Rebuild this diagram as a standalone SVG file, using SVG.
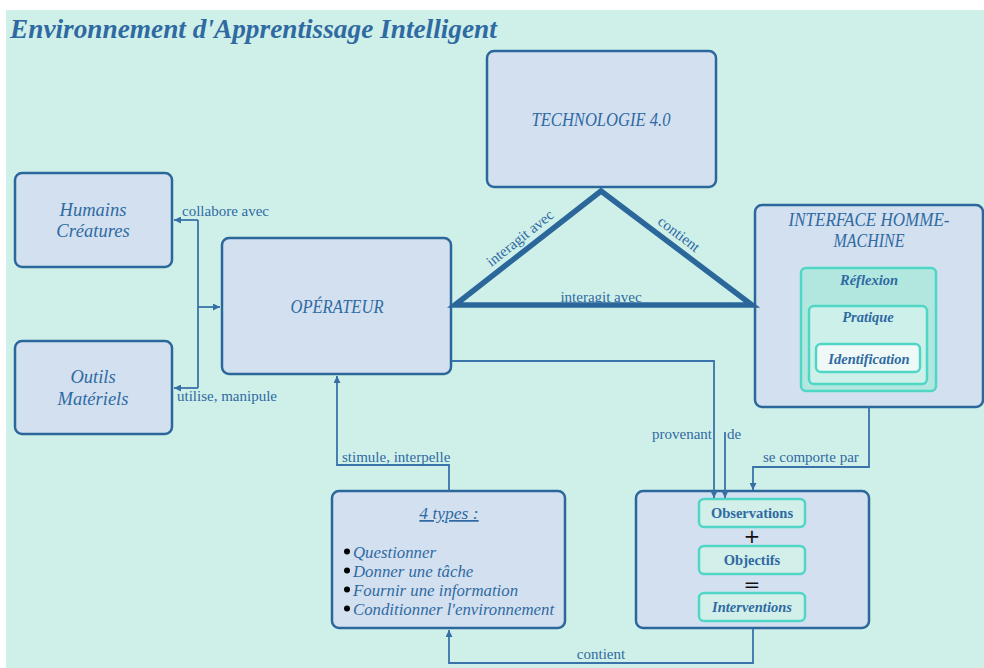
<svg xmlns="http://www.w3.org/2000/svg" width="984" height="668" viewBox="0 0 984 668">
<defs>
<marker id="arr" viewBox="0 0 10 10" refX="10" refY="5" markerWidth="8" markerHeight="7" markerUnits="userSpaceOnUse" orient="auto">
<path d="M0,0 L10,5 L0,10 z" fill="#356fa6"/>
</marker>
</defs>
<style>
.bg{fill:#cff0e9}
.box{fill:#d3e0f0;stroke:#2c679c;stroke-width:2.5}
.teal{stroke:#4fd6c4;stroke-width:2.5}
.con{fill:none;stroke:#3a73aa;stroke-width:1.8}
.tri{fill:none;stroke:#2c679c;stroke-width:5.5;stroke-linejoin:miter}
text{font-family:"Liberation Serif","Times New Roman",serif;fill:#2f6aa2}
.nl{font-size:18.5px;font-style:italic;text-anchor:middle}
.cl{font-size:15px}
.bl{font-size:14.5px;font-weight:bold;text-anchor:middle}
.li{font-size:16.8px;font-style:italic}
</style>
<rect class="bg" x="6" y="10" width="978" height="658"/>
<text x="10" y="38" style="font-size:27.3px;font-weight:bold;font-style:italic">Environnement d'Apprentissage Intelligent</text>

<g id="nodes">
<g id="technologie">
<rect class="box" x="487" y="51" width="229" height="136" rx="7"/>
<text class="nl" x="601" y="126" textLength="139" lengthAdjust="spacingAndGlyphs">TECHNOLOGIE 4.0</text>
</g>
<g id="humains">
<rect class="box" x="15" y="173" width="157" height="94" rx="7"/>
<text class="nl" x="93" y="216">Humains</text>
<text class="nl" x="93" y="237">Créatures</text>
</g>
<g id="outils">
<rect class="box" x="15" y="341" width="157" height="93" rx="7"/>
<text class="nl" x="93" y="383">Outils</text>
<text class="nl" x="93" y="405">Matériels</text>
</g>
<g id="operateur">
<rect class="box" x="222" y="238" width="229" height="136" rx="7"/>
<text class="nl" x="337" y="313" textLength="93" lengthAdjust="spacingAndGlyphs">OPÉRATEUR</text>
</g>
<g id="interface">
<rect class="box" x="755" y="205" width="228" height="202" rx="7"/>
<text class="nl" x="869" y="226" textLength="161" lengthAdjust="spacingAndGlyphs">INTERFACE HOMME-</text>
<text class="nl" x="869" y="247" textLength="71" lengthAdjust="spacingAndGlyphs">MACHINE</text>
<g id="reflexion">
<rect class="teal" x="801" y="268" width="135" height="123" rx="5" fill="#b2e7df"/>
<text class="bl" x="869" y="285" font-style="italic">Réflexion</text>
</g>
<g id="pratique">
<rect class="teal" x="809" y="306" width="118" height="78" rx="5" fill="#cdf0ea"/>
<text class="bl" x="868" y="322" font-style="italic">Pratique</text>
</g>
<g id="identification">
<rect class="teal" x="816" y="344" width="104" height="28" rx="5" fill="#eef9f8"/>
<text class="bl" x="869" y="364" font-style="italic">Identification</text>
</g>
</g>
<g id="types">
<rect class="box" x="332" y="491" width="233" height="137" rx="7"/>
<text class="nl" x="449" y="519" style="font-size:17.5px" text-decoration="underline">4 types :</text>
<circle cx="347" cy="551.5" r="3" fill="#000"/>
<circle cx="347" cy="570.5" r="3" fill="#000"/>
<circle cx="347" cy="589.5" r="3" fill="#000"/>
<circle cx="347" cy="608.5" r="3" fill="#000"/>
<text class="li" x="353" y="558">Questionner</text>
<text class="li" x="353" y="577">Donner une tâche</text>
<text class="li" x="353" y="596">Fournir une information</text>
<text class="li" x="353" y="615">Conditionner l'environnement</text>
</g>
<g id="calcul">
<rect class="box" x="636" y="491" width="233" height="137" rx="7"/>
<g id="observations">
<rect class="teal" x="699" y="499" width="106" height="28" rx="5" fill="#d2efea"/>
<text class="bl" x="752" y="518">Observations</text>
</g>
<text x="752" y="543" style="font-size:20px;font-family:'DejaVu Sans',sans-serif;fill:#111;text-anchor:middle">+</text>
<g id="objectifs">
<rect class="teal" x="699" y="546" width="106" height="28" rx="5" fill="#d2efea"/>
<text class="bl" x="752" y="565">Objectifs</text>
</g>
<text x="752" y="591" style="font-size:20px;font-family:'DejaVu Sans',sans-serif;fill:#111;text-anchor:middle">=</text>
<g id="interventions">
<rect class="teal" x="699" y="593" width="106" height="28" rx="5" fill="#d2efea"/>
<text class="bl" x="752" y="612" font-style="italic">Interventions</text>
</g>
</g>
</g>

<g id="connectors">
<polygon class="tri" points="455,305 601,191 752,305"/>
<path class="con" d="M198,307 L220,307" marker-end="url(#arr)"/>
<path class="con" d="M198,220 L198,388"/>
<path class="con" d="M198,220 L174,220" marker-end="url(#arr)"/>
<path class="con" d="M198,388 L174,388" marker-end="url(#arr)"/>
<path class="con" d="M452,361 L714,361 L714,498" marker-end="url(#arr)"/>
<path class="con" d="M725,432 L725,498" marker-end="url(#arr)"/>
<path class="con" d="M869,407 L869,467 L753,467 L753,490" marker-end="url(#arr)"/>
<path class="con" d="M753,629 L753,663 L449,663 L449,630" marker-end="url(#arr)"/>
<path class="con" d="M449,491 L449,465 L337,465 L337,376" marker-end="url(#arr)"/>
<text class="cl" x="182" y="216">collabore avec</text>
<text class="cl" x="177" y="401">utilise, manipule</text>
<text class="cl" x="342" y="462">stimule, interpelle</text>
<text class="cl" x="712" y="439" text-anchor="end">provenant</text>
<text class="cl" x="727" y="439">de</text>
<text class="cl" x="763" y="462">se comporte par</text>
<text class="cl" x="601" y="659" text-anchor="middle">contient</text>
<text class="cl" x="601" y="302" text-anchor="middle">interagit avec</text>
<text class="cl" text-anchor="middle" transform="translate(523,242) rotate(-38.5)">interagit avec</text>
<text class="cl" text-anchor="middle" transform="translate(676,238) rotate(37.5)">contient</text>
</g>
</svg>
